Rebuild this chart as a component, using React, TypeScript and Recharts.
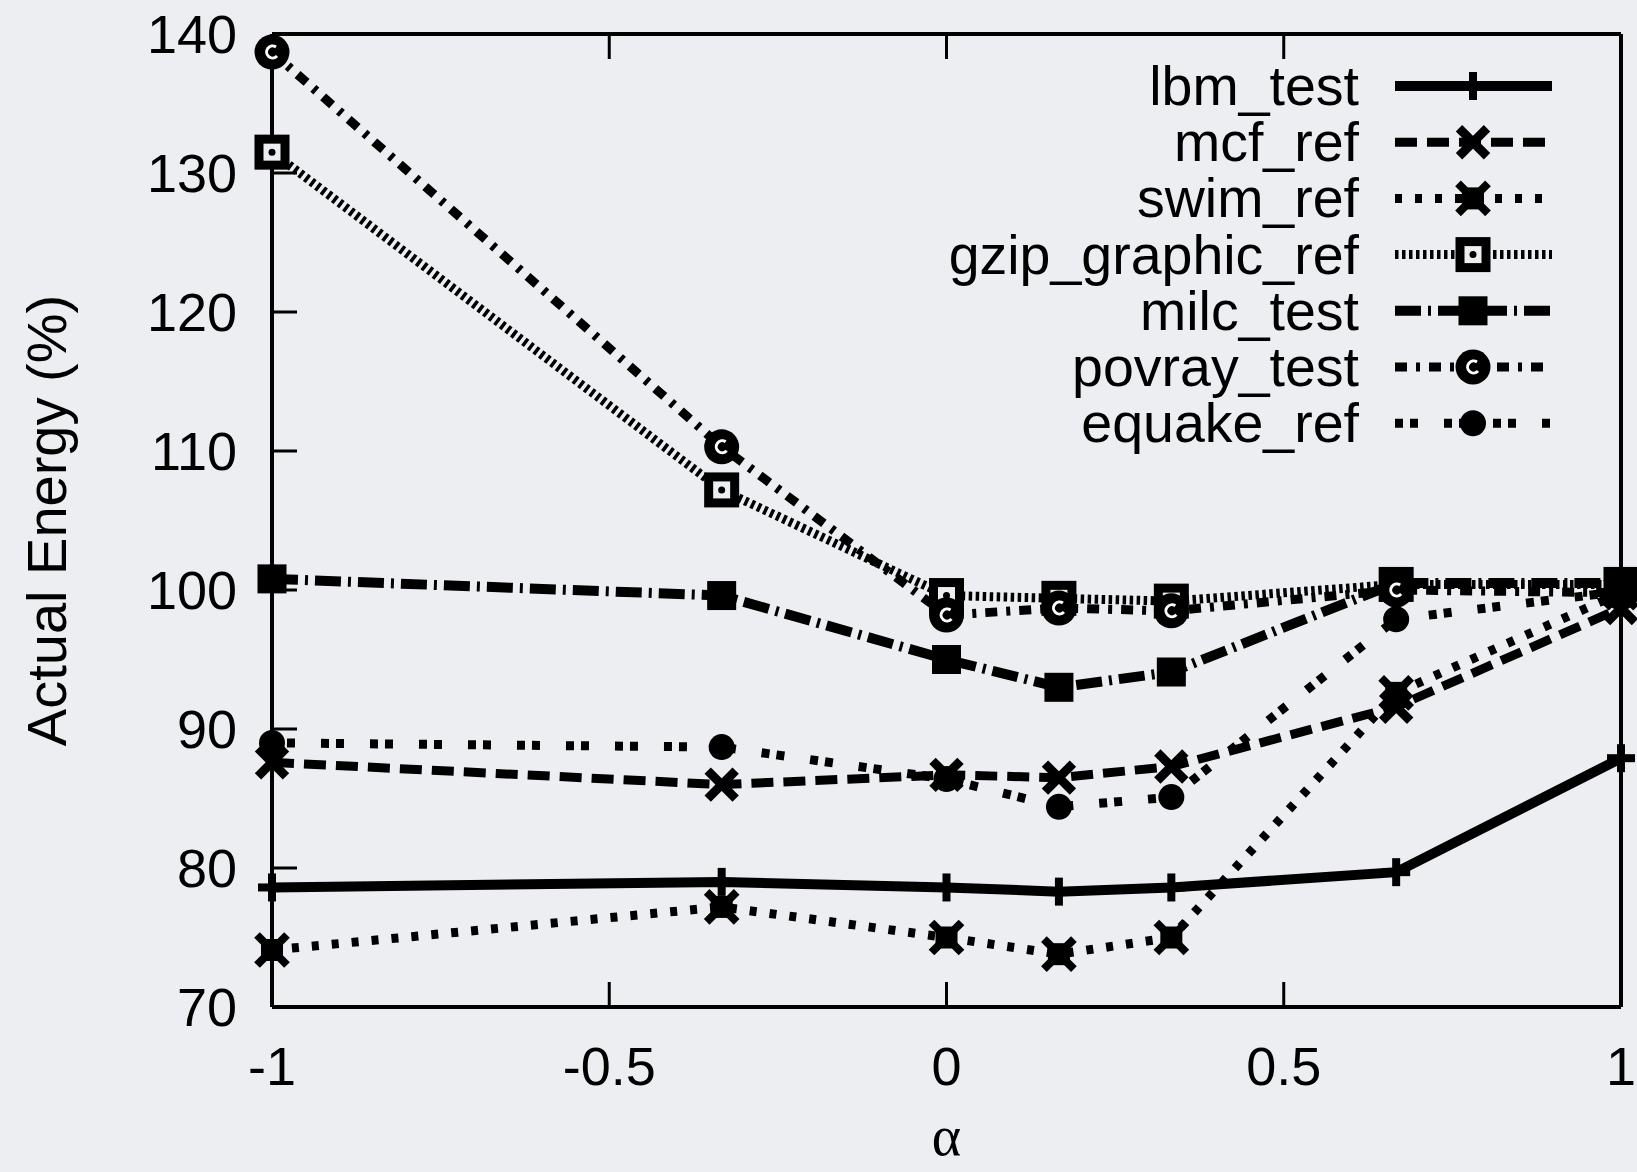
import { LineChart, Line, XAxis, YAxis, Legend } from 'recharts';

const alphaValues = [-1, -1 / 3, 0, 1 / 6, 1 / 3, 2 / 3, 1];
const lbmTest = [78.6, 79.0, 78.6, 78.3, 78.6, 79.7, 87.9];
const mcfRef = [87.6, 86.0, 86.7, 86.5, 87.3, 91.6, 98.7];
const swimRef = [74.1, 77.2, 75.0, 73.8, 75.0, 92.6, 99.8];
const gzipGraphicRef = [131.5, 107.2, 99.6, 99.4, 99.2, 100.4, 100.4];
const milcTest = [100.8, 99.6, 95.0, 93.0, 94.1, 100.5, 100.5];
const povrayTest = [138.7, 110.3, 98.2, 98.7, 98.5, 100.0, 99.8];
const equakeRef = [89.0, 88.7, 86.4, 84.4, 85.1, 97.9, 99.9];

const xTicks = [-1, -0.5, 0, 0.5, 1];
const yTicks = [70, 80, 90, 100, 110, 120, 130, 140];

const BG = '#eceef1';
const FONT = '"Liberation Sans", Arial, Helvetica, sans-serif';

type Shape = 'plus' | 'cross' | 'crossBox' | 'openBox' | 'box' | 'ringC' | 'dot';

const series: { key: string; name: string; shape: Shape; dash?: string; width: number }[] = [
  { key: 'lbm', name: 'lbm_test', shape: 'plus', width: 10 },
  { key: 'mcf', name: 'mcf_ref', shape: 'cross', dash: '22 10', width: 9 },
  { key: 'swim', name: 'swim_ref', shape: 'crossBox', dash: '7 13', width: 9 },
  { key: 'gzip', name: 'gzip_graphic_ref', shape: 'openBox', dash: '3.5 3.5', width: 9 },
  { key: 'milc', name: 'milc_test', shape: 'box', dash: '26 7 3 7', width: 10 },
  { key: 'povray', name: 'povray_test', shape: 'ringC', dash: '12 9 4 9', width: 9 },
  { key: 'equake', name: 'equake_ref', shape: 'dot', dash: '8 7 8 26', width: 9 },
];

const data = alphaValues.map((a, i) => ({
  alpha: a,
  lbm: lbmTest[i],
  mcf: mcfRef[i],
  swim: swimRef[i],
  gzip: gzipGraphicRef[i],
  milc: milcTest[i],
  povray: povrayTest[i],
  equake: equakeRef[i],
}));

function Marker({ shape, cx, cy }: { shape: Shape; cx: number; cy: number }) {
  if (cx == null || cy == null) return <g />;
  switch (shape) {
    case 'plus':
      return (
        <g stroke="#000" strokeWidth={8}>
          <line x1={cx - 14} y1={cy} x2={cx + 14} y2={cy} />
          <line x1={cx} y1={cy - 14} x2={cx} y2={cy + 14} />
        </g>
      );
    case 'cross':
      return (
        <g stroke="#000" strokeWidth={9}>
          <line x1={cx - 14} y1={cy - 14} x2={cx + 14} y2={cy + 14} />
          <line x1={cx - 14} y1={cy + 14} x2={cx + 14} y2={cy - 14} />
        </g>
      );
    case 'crossBox':
      return (
        <g>
          <rect x={cx - 11} y={cy - 11} width={22} height={22} fill="#000" />
          <g stroke="#000" strokeWidth={8}>
            <line x1={cx - 15} y1={cy - 15} x2={cx + 15} y2={cy + 15} />
            <line x1={cx - 15} y1={cy + 15} x2={cx + 15} y2={cy - 15} />
          </g>
        </g>
      );
    case 'openBox':
      return (
        <g>
          <rect x={cx - 13} y={cy - 13} width={26} height={26} fill={BG} stroke="#000" strokeWidth={9} />
          <circle cx={cx} cy={cy} r={3.5} fill="#000" />
        </g>
      );
    case 'box':
      return <rect x={cx - 14.5} y={cy - 14.5} width={29} height={29} fill="#000" />;
    case 'ringC':
      return (
        <g>
          <circle cx={cx} cy={cy} r={17.5} fill="#000" />
          <path
            d={`M ${cx + 4} ${cy - 5} A 6 6 0 1 0 ${cx + 5} ${cy + 4}`}
            fill="none"
            stroke="#fff"
            strokeWidth={3}
          />
        </g>
      );
    default:
      return <circle cx={cx} cy={cy} r={13} fill="#000" />;
  }
}

const renderLegend = () => (
  <svg width={1637} height={470} style={{ display: 'block' }}>
    {series.map((s, i) => {
      const cy = 86 + i * 56.2;
      return (
        <g key={s.key}>
          <text
            x={1359}
            y={cy + 19}
            textAnchor="end"
            fontSize={55.5}
            fontFamily={FONT}
            fill="#000"
          >
            {s.name}
          </text>
          <line
            x1={1395}
            x2={1552}
            y1={cy}
            y2={cy}
            stroke="#000"
            strokeWidth={s.width}
            strokeDasharray={s.dash}
          />
          <Marker shape={s.shape} cx={1473} cy={cy} />
        </g>
      );
    })}
  </svg>
);

const YTitle = (props: any) => {
  const vb = props.viewBox || { y: 34, height: 973 };
  return (
    <text
      transform={`translate(46, ${vb.y + vb.height / 2}) rotate(-90)`}
      textAnchor="middle"
      dominantBaseline="central"
      fontSize={56}
      fontFamily={FONT}
      fill="#000"
    >
      Actual Energy (%)
    </text>
  );
};

const XTitle = (props: any) => {
  const vb = props.viewBox || { x: 272, width: 1349 };
  return (
    <text
      x={vb.x + vb.width / 2}
      y={1155}
      textAnchor="middle"
      fontSize={56}
      fontFamily='"Liberation Serif", "DejaVu Serif", serif'
      fill="#000"
    >
      α
    </text>
  );
};

const tickStyle = { fontSize: 54, fill: '#000', fontFamily: FONT };
const axisLine = { stroke: '#000', strokeWidth: 4 };
const tickLine = { stroke: '#000', strokeWidth: 3 };

export default function App() {
  return (
    <div style={{ width: 1637, height: 1172, background: BG, position: 'relative' }}>
      <style>{`body{margin:0;background:${BG};overflow:hidden}`}</style>
      <LineChart width={1637} height={1172} data={data} margin={{ top: 0, right: 0, left: 0, bottom: 0 }}>
        <XAxis
          xAxisId="b"
          dataKey="alpha"
          type="number"
          domain={[-1, 1]}
          ticks={xTicks}
          height={165}
          axisLine={axisLine}
          tickLine={tickLine}
          tickSize={-25}
          tickMargin={65}
          tick={tickStyle}
          label={<XTitle />}
        />
        <XAxis
          xAxisId="t"
          orientation="top"
          dataKey="alpha"
          type="number"
          domain={[-1, 1]}
          ticks={xTicks}
          height={34}
          axisLine={axisLine}
          tickLine={tickLine}
          tickSize={-25}
          tick={() => <g />}
        />
        <YAxis
          yAxisId="l"
          type="number"
          domain={[70, 140]}
          ticks={yTicks}
          width={272}
          axisLine={axisLine}
          tickLine={tickLine}
          tickSize={-25}
          tickMargin={60}
          tick={tickStyle}
          label={<YTitle />}
        />
        <YAxis
          yAxisId="r"
          orientation="right"
          type="number"
          domain={[70, 140]}
          ticks={yTicks}
          width={16}
          axisLine={axisLine}
          tickLine={tickLine}
          tickSize={-25}
          tick={() => <g />}
        />
        <Legend
          verticalAlign="middle"
          content={renderLegend}
          wrapperStyle={{ position: 'absolute', left: 0, top: 0, width: 1637, height: 470, pointerEvents: 'none' }}
        />
        {series.map((s) => (
          <Line
            key={s.key}
            xAxisId="b"
            yAxisId="l"
            type="linear"
            dataKey={s.key}
            name={s.name}
            stroke="#000"
            strokeWidth={s.width}
            strokeDasharray={s.dash}
            dot={(p: any) => <Marker key={`${s.key}-${p.index}`} shape={s.shape} cx={p.cx} cy={p.cy} />}
            activeDot={false}
            isAnimationActive={false}
          />
        ))}
      </LineChart>
    </div>
  );
}
